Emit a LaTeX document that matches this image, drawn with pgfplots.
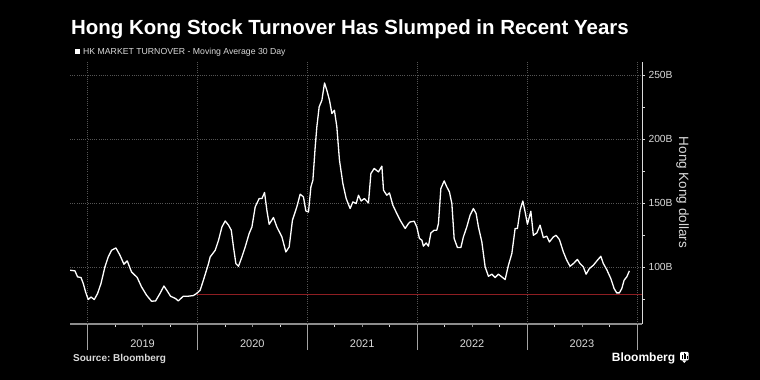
\documentclass[border=0pt]{standalone}
\usepackage{pgfplots}
\pgfplotsset{compat=1.18}
\usepackage{fontspec}
\setmainfont{Liberation Sans}
\definecolor{gridc}{HTML}{555555}
\definecolor{axc}{HTML}{8C8C8C}
\definecolor{txt}{HTML}{DADADA}
\definecolor{redl}{HTML}{8E1E22}
\begin{document}
\begin{tikzpicture}[x=1pt,y=1pt]
\fill[black] (0,0) rectangle (760,380);
\useasboundingbox (0,0) rectangle (760,380);
% title and legend
\node[anchor=base west, inner sep=0, text=white, font=\bfseries\fontsize{20.45}{24}\selectfont] at (71,345) {Hong Kong Stock Turnover Has Slumped in Recent Years};
\fill[white] (75,326) rectangle (80.3,330.7);
\node[anchor=base west, inner sep=0, text=txt, font=\fontsize{8.7}{10}\selectfont] at (83,325) {HK MARKET TURNOVER - Moving Average 30 Day};
\begin{axis}[
  at={(70pt,56pt)}, anchor=south west,
  scale only axis, width=572pt, height=262.3pt,
  xmin=2018.84, xmax=2024.047, ymin=55.5, ymax=260.4,
  axis x line*=bottom, axis y line*=right,
  x axis line style={axc, line width=1.1pt, -},
  y axis line style={txt, line width=0.8pt, -},
  xtick pos=bottom, ytick pos=right,
  tick align=outside,
  major tick length=3pt, minor tick length=3pt,
  tick style={axc, line width=0.6pt},
  xtick={2019.5,2020.5,2021.5,2022.5,2023.5},
  xticklabels={2019,2020,2021,2022,2023},
  minor xtick={2019.25,2019.75,2020.25,2020.75,2021.25,2021.75,2022.25,2022.75,2023.25,2023.75},
  extra x ticks={2019,2020,2021,2022,2023,2024},
  extra x tick labels={},
  extra x tick style={grid=major, major grid style={gridc, dash pattern=on 0.8pt off 1.4pt, line width=0.6pt}, major tick length=26pt, tick style={axc!80, line width=0.6pt}},
  xticklabel style={font=\fontsize{11}{13}\selectfont, text=txt, anchor=base, yshift=-20pt},
  ytick={100,150,200,250},
  yticklabels={100B,150B,200B,250B},
  minor ytick={75,125,175,225},
  ytick style={txt, line width=0.6pt},
  minor tick style={txt, line width=0.6pt},
  yticklabel style={font=\fontsize{10.3}{12}\selectfont, text=txt, anchor=west},
  ymajorgrids=true,
  major grid style={gridc, dash pattern=on 0.8pt off 1.4pt, line width=0.6pt},
]
\addplot[draw=redl, line width=1.1pt, dash pattern=on 1.1pt off 0.9pt, forget plot] table {
x y
2020.0 78.4
2024.047 78.4
};
\addplot[white, line width=1.3pt, line join=round] table {
x y
2018.840 97.5
2018.885 97.0
2018.909 92.3
2018.940 91.8
2018.961 87.1
2018.982 80.5
2019.006 74.6
2019.031 76.6
2019.061 74.6
2019.091 79.3
2019.122 87.1
2019.158 100.1
2019.188 107.9
2019.218 113.1
2019.258 114.9
2019.295 109.2
2019.331 102.2
2019.361 104.8
2019.400 96.2
2019.452 91.8
2019.491 84.5
2019.537 78.0
2019.582 73.3
2019.619 73.5
2019.659 79.3
2019.695 85.2
2019.725 81.3
2019.755 77.2
2019.801 75.4
2019.825 73.5
2019.871 77.2
2019.916 77.2
2019.962 77.7
2019.992 79.3
2020.025 81.9
2020.056 90.2
2020.101 102.7
2020.116 107.9
2020.162 113.1
2020.192 120.9
2020.223 131.3
2020.253 136.0
2020.283 132.7
2020.308 128.8
2020.328 115.7
2020.350 102.7
2020.374 100.6
2020.405 107.9
2020.435 115.7
2020.471 126.2
2020.496 131.3
2020.526 147.0
2020.562 153.5
2020.587 153.5
2020.611 158.2
2020.632 144.4
2020.653 133.4
2020.692 138.7
2020.723 131.3
2020.769 123.5
2020.805 111.8
2020.835 115.7
2020.865 136.6
2020.905 147.0
2020.935 156.9
2020.965 154.8
2020.987 143.8
2021.011 143.0
2021.033 162.6
2021.051 167.8
2021.072 193.8
2021.087 209.5
2021.108 225.1
2021.133 230.3
2021.157 243.8
2021.178 238.1
2021.202 230.3
2021.224 219.9
2021.247 222.5
2021.269 209.5
2021.293 183.4
2021.324 165.2
2021.354 153.5
2021.390 145.7
2021.415 150.9
2021.445 149.6
2021.466 156.1
2021.490 151.6
2021.520 153.5
2021.557 150.1
2021.579 173.0
2021.609 177.0
2021.648 174.3
2021.679 178.8
2021.694 160.0
2021.724 156.1
2021.748 157.9
2021.779 148.3
2021.815 141.8
2021.845 136.6
2021.891 130.1
2021.921 134.0
2021.936 135.2
2021.973 135.8
2021.997 131.3
2022.021 122.3
2022.043 121.0
2022.057 116.3
2022.082 118.8
2022.103 116.3
2022.125 126.6
2022.155 128.8
2022.179 128.8
2022.194 134.0
2022.216 161.3
2022.246 167.3
2022.270 162.6
2022.294 158.7
2022.316 149.6
2022.337 122.3
2022.367 115.2
2022.398 115.2
2022.421 123.5
2022.452 131.3
2022.482 140.5
2022.512 145.7
2022.537 141.8
2022.558 131.3
2022.589 119.6
2022.619 100.1
2022.649 92.8
2022.680 94.4
2022.710 91.8
2022.740 94.4
2022.771 92.3
2022.801 90.2
2022.831 101.4
2022.862 110.5
2022.892 130.1
2022.913 130.1
2022.937 144.4
2022.962 151.6
2022.983 143.0
2023.004 133.4
2023.035 143.6
2023.058 124.8
2023.089 126.6
2023.119 132.7
2023.149 123.0
2023.180 124.1
2023.204 119.6
2023.240 123.5
2023.265 124.8
2023.295 121.5
2023.331 111.8
2023.362 105.3
2023.392 100.6
2023.422 102.7
2023.459 105.9
2023.483 102.7
2023.513 100.1
2023.538 94.4
2023.568 98.8
2023.604 101.4
2023.641 105.3
2023.672 108.4
2023.695 102.7
2023.726 98.0
2023.763 91.0
2023.793 83.2
2023.817 79.8
2023.841 79.8
2023.863 83.2
2023.884 89.7
2023.908 92.3
2023.932 97.0
};
\end{axis}
% y axis title
\node[rotate=-90, text=txt, font=\fontsize{13.5}{15}\selectfont, inner sep=0] at (682.5,187.5) {Hong Kong dollars};
% footer
\node[anchor=base west, inner sep=0, text=txt, font=\bfseries\fontsize{10}{12}\selectfont] at (73,18) {Source:\ Bloomberg};
\node[anchor=base west, inner sep=0, text=white, font=\bfseries\fontsize{12}{14}\selectfont] at (611.7,18.3) {Bloomberg};
\fill[white, rounded corners=1pt] (680,19.5) rectangle (688.5,28);
\fill[white] (682,19.6) -- (684.3,17) -- (686.5,19.6) -- cycle;
\fill[black] (681.8,21) rectangle (682.6,24.5);
\fill[black] (683.5,21) rectangle (684.3,26.5);
\fill[black] (685.2,21) rectangle (686,25.5);
\fill[black] (686.9,21) rectangle (687.3,23.5);
\end{tikzpicture}
\end{document}
